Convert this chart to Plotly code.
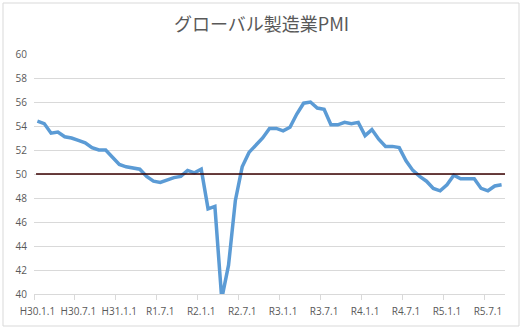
import plotly.graph_objects as go

title = "グローバル製造業PMI"
tick_labels = ["H30.1.1", "H30.7.1", "H31.1.1", "R1.7.1", "R2.1.1", "R2.7.1",
               "R3.1.1", "R3.7.1", "R4.1.1", "R4.7.1", "R5.1.1", "R5.7.1"]
pmi = [54.4, 54.2, 53.4, 53.5, 53.1, 53.0, 52.8, 52.6, 52.2, 52.0, 52.0, 51.4,
       50.8, 50.6, 50.5, 50.4, 49.8, 49.4, 49.3, 49.5, 49.7, 49.8, 50.3, 50.1,
       50.4, 47.1, 47.3, 39.6, 42.4, 47.8, 50.6, 51.8, 52.4, 53.0, 53.8, 53.8,
       53.6, 53.9, 55.0, 55.9, 56.0, 55.5, 55.4, 54.1, 54.1, 54.3, 54.2, 54.3,
       53.2, 53.7, 52.9, 52.3, 52.3, 52.2, 51.1, 50.3, 49.8, 49.4, 48.8, 48.6,
       49.1, 49.9, 49.6, 49.6, 49.6, 48.8, 48.6, 49.0, 49.1]
threshold = 50
label_every = 6

n = len(pmi)
x = list(range(n))
major_vals = list(range(0, n, label_every))[:len(tick_labels)]
minor_vals = [v - 0.5 for v in major_vals]

fig = go.Figure()
fig.add_trace(go.Scatter(x=x, y=pmi, mode="lines",
                         line=dict(color="#5b9bd5", width=3.5),
                         hoverinfo="x+y", showlegend=False))
fig.add_trace(go.Scatter(x=[-0.2, n - 0.5], y=[threshold, threshold], mode="lines",
                         line=dict(color="#3a0000", width=1.3),
                         hoverinfo="skip", showlegend=False))

fig.update_layout(
    width=523, height=330,
    margin=dict(l=34, r=18, t=54, b=36),
    paper_bgcolor="white", plot_bgcolor="white",
    font=dict(family="Open Sans", size=10, color="#595959"),
    title=dict(text=title, x=0.5, xref="container", xanchor="center",
               y=1 - 24.5 / 330, yref="container", yanchor="middle",
               font=dict(family="Noto Sans CJK JP", size=18, color="#595959")),
    xaxis=dict(range=[-0.5, n - 0.5], tickmode="array", tickvals=major_vals,
               ticktext=tick_labels, ticks="", showgrid=False, zeroline=False,
               showline=True, linecolor="#d9d9d9", linewidth=1,
               ticklabelstandoff=8,
               minor=dict(tickmode="array", tickvals=minor_vals, ticks="outside",
                          ticklen=5, tickcolor="#d9d9d9", tickwidth=1, showgrid=False)),
    yaxis=dict(range=[40, 60], dtick=2, showgrid=True, gridcolor="#d9d9d9",
               gridwidth=1, zeroline=False, showline=False, ticks="",
               ticklabelstandoff=6),
    shapes=[dict(type="rect", xref="paper", yref="paper",
                 x0=(3 - 34) / 471, x1=(519 - 34) / 471,
                 y0=(294 - 326) / 240, y1=(294 - 3) / 240,
                 line=dict(color="#d9d9d9", width=1), fillcolor="rgba(0,0,0,0)",
                 layer="below")],
)

fig.write_html("out.html")
